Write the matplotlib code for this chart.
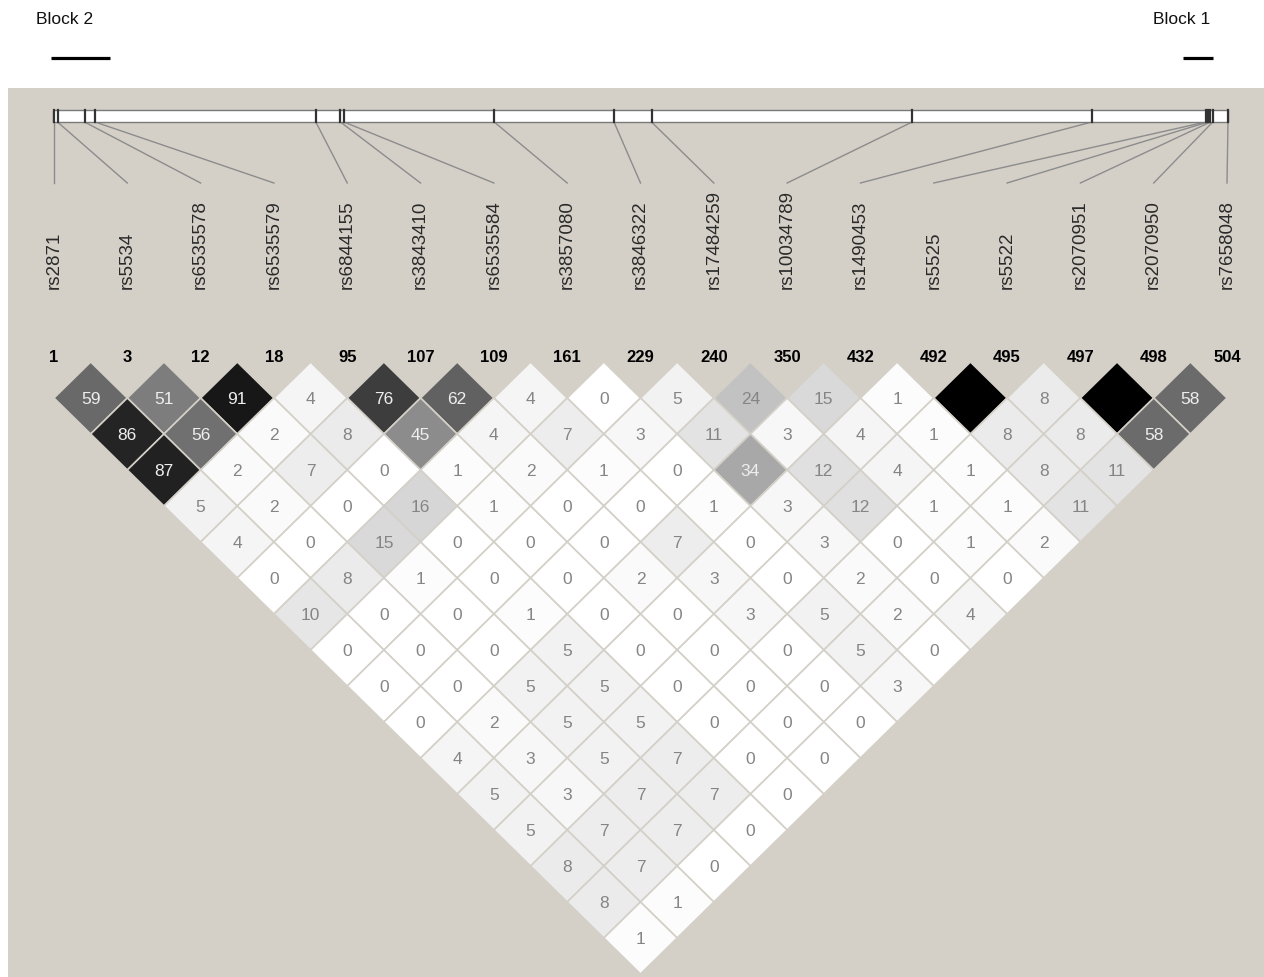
import matplotlib
matplotlib.use("Agg")
import matplotlib.pyplot as plt
from matplotlib.patches import Polygon, Rectangle

# ---------------- data ----------------
snp_names = ["rs2871", "rs5534", "rs6535578", "rs6535579", "rs6844155", "rs3843410",
             "rs6535584", "rs3857080", "rs3846322", "rs17484259", "rs10034789",
             "rs1490453", "rs5525", "rs5522", "rs2070951", "rs2070950", "rs7658048"]
marker_nums = [1, 3, 12, 18, 95, 107, 109, 161, 229, 240, 350, 432, 492, 495, 497, 498, 504]
# relative physical position of each marker along the map bar (0 = left end, 1 = right end)
map_pos = [0.000, 0.003, 0.026, 0.035, 0.223, 0.244, 0.247, 0.375, 0.477, 0.509,
           0.731, 0.884, 0.981, 0.983, 0.985, 0.987, 1.000]

# r^2 x 100, one list per marker distance (1 = adjacent markers); 100 = black cell without number
ld_d1 = [59, 51, 91, 4, 76, 62, 4, 0, 5, 24, 15, 1, 100, 8, 100, 58]
ld_d2 = [86, 56, 2, 8, 45, 4, 7, 3, 11, 3, 4, 1, 8, 8, 58]
ld_d3 = [87, 2, 7, 0, 1, 2, 1, 0, 34, 12, 4, 1, 8, 11]
ld_d4 = [5, 2, 0, 16, 1, 0, 0, 1, 3, 12, 1, 1, 11]
ld_d5 = [4, 0, 15, 0, 0, 0, 7, 0, 3, 0, 1, 2]
ld_d6 = [0, 8, 1, 0, 0, 2, 3, 0, 2, 0, 0]
ld_d7 = [10, 0, 0, 1, 0, 0, 3, 5, 2, 4]
ld_d8 = [0, 0, 0, 5, 0, 0, 0, 5, 0]
ld_d9 = [0, 0, 5, 5, 0, 0, 0, 3]
ld_d10 = [0, 2, 5, 5, 0, 0, 0]
ld_d11 = [4, 3, 5, 7, 0, 0]
ld_d12 = [5, 3, 7, 7, 0]
ld_d13 = [5, 7, 7, 0]
ld_d14 = [8, 7, 0]
ld_d15 = [8, 1]
ld_d16 = [1]
ld_rows = [ld_d1, ld_d2, ld_d3, ld_d4, ld_d5, ld_d6, ld_d7, ld_d8, ld_d9, ld_d10,
           ld_d11, ld_d12, ld_d13, ld_d14, ld_d15, ld_d16]

block_labels = ["Block 2", "Block 1"]

# ---------------- layout ----------------
W, H = 1264, 978
BG = "#d4d0c8"
fig = plt.figure(figsize=(W / 100, H / 100), dpi=100)
fig.patch.set_facecolor("white")
ax = fig.add_axes([0, 0, 1, 1])
ax.set_xlim(0, W)
ax.set_ylim(H, 0)
ax.axis("off")

ax.add_patch(Rectangle((8, 89), W - 8, H - 89, facecolor=BG, edgecolor="none", zorder=0))

n = len(snp_names)
x0, x1 = 54.0, 1227.0
dx = (x1 - x0) / (n - 1)
xs = [x0 + i * dx for i in range(n)]
hx = dx / 2
hy = 36.0
ytop = 363.0

FONT = "Liberation Sans"

# block annotations
ax.text(65, 19, block_labels[0], ha="center", va="center", fontsize=12.5, family=FONT, color="#111111")
ax.plot([51, 110], [59, 59], color="black", lw=2.3, solid_capstyle="butt")
ax.text(1182, 19, block_labels[1], ha="center", va="center", fontsize=12.5, family=FONT, color="#111111")
ax.plot([1183, 1213], [59, 59], color="black", lw=2.3, solid_capstyle="butt")

# map bar
bar_l, bar_r = 53.0, 1228.0
bar_t, bar_b = 111.0, 123.0
ax.add_patch(Rectangle((bar_l, bar_t), bar_r - bar_l, bar_b - bar_t, facecolor="white",
                       edgecolor="#7a7a7a", lw=1.0, zorder=2))
for i, p in enumerate(map_pos):
    px = 54 + p * (bar_r - 54)
    ax.plot([px, px], [bar_t, bar_b], color="#333333", lw=1.6, zorder=3)
    ax.plot([px, xs[i]], [bar_b, 184], color="#8c8c8c", lw=1.0, zorder=1)

# SNP names and marker numbers
for i in range(n):
    ax.text(xs[i], 289, snp_names[i], rotation=90, ha="center", va="bottom",
            fontsize=13.5, family=FONT, color="#2a2a2a")
    ax.text(xs[i], 357, str(marker_nums[i]), ha="center", va="center",
            fontsize=12, family=FONT, fontweight="bold", color="black")

# LD diamonds
for d, row in enumerate(ld_rows, start=1):
    for i, v in enumerate(row):
        j = i + d
        cx = (xs[i] + xs[j]) / 2
        cy = ytop + hy * d
        g = 1 - v / 100.0
        poly = Polygon([(cx, cy - hy), (cx + hx, cy), (cx, cy + hy), (cx - hx, cy)],
                       closed=True, facecolor=(g, g, g), edgecolor=BG, lw=1.2, zorder=4)
        ax.add_patch(poly)
        if v < 100:
            tc = "#eeeeee" if v >= 30 else "#858585"
            ax.text(cx, cy, str(v), ha="center", va="center", fontsize=12.5,
                    family=FONT, color=tc, zorder=5)

fig.savefig("out.png", dpi=100, facecolor=fig.get_facecolor())
